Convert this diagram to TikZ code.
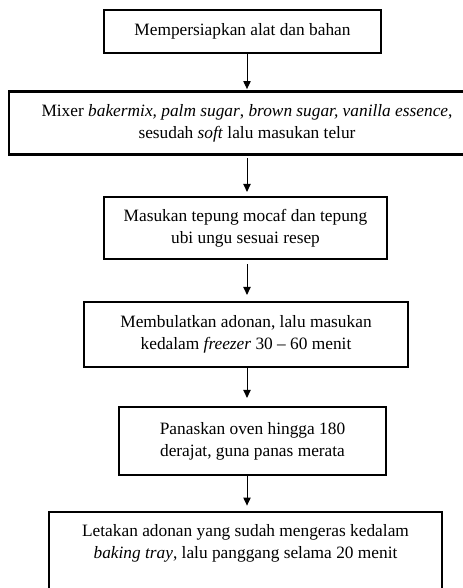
\documentclass[tikz,border=0pt]{standalone}
\usepackage{fontspec}
\setmainfont{Liberation Serif}
\usetikzlibrary{arrows.meta}
\usetikzlibrary{positioning}

\begin{document}
\begin{tikzpicture}[x=0.75pt, y=-0.75pt, >={Triangle[length=6pt, width=5.5pt]}]
    \tikzset{
        stepbox/.style={draw, line width=1.6pt, align=center, inner sep=0pt,
            font=\fontsize{13}{16.5}\selectfont},
        flow/.style={->, line width=0.7pt}
    }
    \useasboundingbox (0,0) rectangle (462,588);

    \coordinate (spine) at (247,0);

    \node [stepbox, minimum width=207.75pt, minimum height=32.25pt] (prep) at (242.5,31.5)
        {Mempersiapkan alat dan bahan};
    \node [stepbox, minimum width=357pt, minimum height=47.25pt] (mixer) at (247,123)
        {Mixer \textit{bakermix, palm sugar}, \textit{brown sugar, vanilla essence},\\
         sesudah \textit{soft} lalu masukan telur};
    \node [stepbox, minimum width=212.25pt, minimum height=46.5pt] (flour) at (245.5,228)
        {Masukan tepung mocaf dan tepung\\ ubi ungu sesuai resep};
    \node [stepbox, minimum width=243pt, minimum height=48.75pt] (shape) at (246,334.5)
        {Membulatkan adonan, lalu masukan\\ kedalam \textit{freezer} 30 \textendash{} 60 menit};
    \node [stepbox, minimum width=200.25pt, minimum height=51pt] (oven) at (252.5,441)
        {Panaskan oven hingga 180\\ derajat, guna panas merata};
    \node [stepbox, minimum width=294.75pt, minimum height=60pt] (bake) at (245.5,552)
        {Letakan adonan yang sudah mengeras kedalam\\
         \textit{baking tray}, lalu panggang selama 20 menit\\ \mbox{}};

    % arrows between the steps
    \draw [flow, shorten >=1pt] (prep.south -| spine) -- (mixer.north -| spine);
    \draw [flow, shorten <=2pt, shorten >=3pt] (mixer.south -| spine) -- (flour.north -| spine);
    \draw [flow, shorten <=3pt, shorten >=4.5pt] (flour.south -| spine) -- (shape.north -| spine);
    \draw [flow, shorten >=6pt] (shape.south -| spine) -- (oven.north -| spine);
    \draw [flow, shorten >=4pt] (oven.south -| spine) -- (bake.north -| spine);

\end{tikzpicture}
\end{document}
